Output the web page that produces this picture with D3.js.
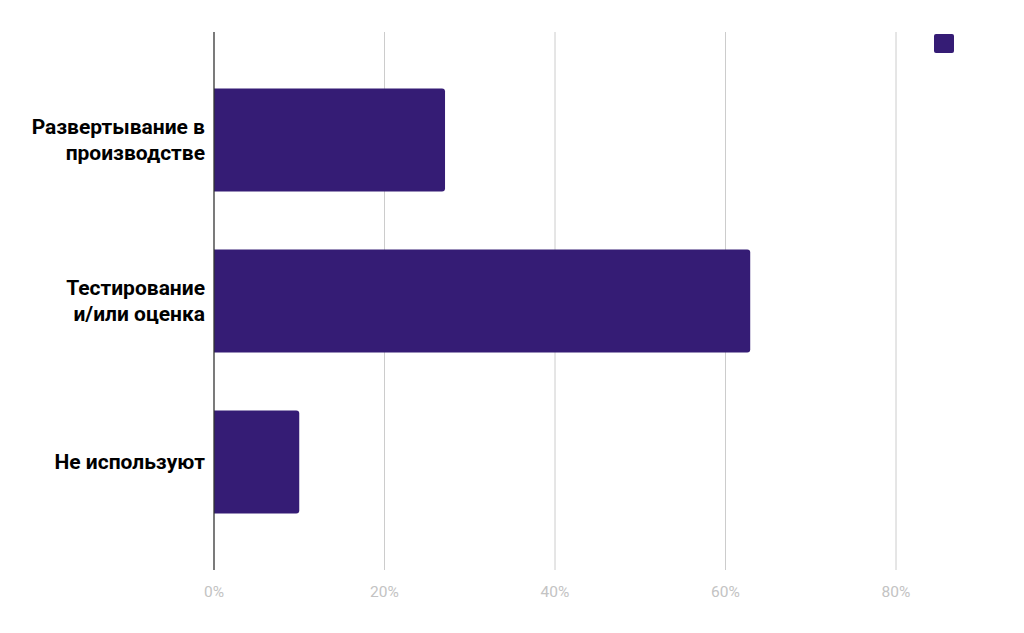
<!DOCTYPE html>
<html><head><meta charset="utf-8">
<script src="https://cdn.jsdelivr.net/npm/d3@7"></script>
<style>body{margin:0;background:#fff}svg{display:block}</style>
</head><body><svg id="c" width="1024" height="633"></svg>
<script>
const categories = [["Развертывание в","производстве"],["Тестирование","и/или оценка"],["Не используют"]];
const values = [27.1, 62.9, 10];
const ticks = [0, 20, 40, 60, 80];
const tickLabels = ["0%","20%","40%","60%","80%"];

const svg = d3.select("#c");
const m = {l:214, r:896, t:32, b:570};
const x = d3.scaleLinear().domain([0,80]).range([m.l, m.r]);
const y = d3.scaleBand().domain(d3.range(categories.length)).range([m.t, m.b]).paddingInner(0.36).paddingOuter(0.35);
const color = "#351c75";

svg.append("g").selectAll("line").data(ticks.slice(1)).join("line")
  .attr("x1", d=>x(d)).attr("x2", d=>x(d)).attr("y1", m.t).attr("y2", m.b)
  .attr("stroke", "#cccccc").attr("stroke-width", 1);

svg.append("g").selectAll("path").data(values).join("path")
  .attr("fill", color)
  .attr("d", (d,i)=>{
    const x0 = x(0), x1 = x(d), y0 = y(i), h = y.bandwidth(), r = 3;
    return `M${x0},${y0}H${x1-r}Q${x1},${y0} ${x1},${y0+r}V${y0+h-r}Q${x1},${y0+h} ${x1-r},${y0+h}H${x0}Z`;
  });

svg.append("line").attr("x1", x(0)).attr("x2", x(0)).attr("y1", m.t).attr("y2", m.b)
  .attr("stroke", "#333").attr("stroke-width", 1.3);

svg.append("g").selectAll("text").data(ticks).join("text")
  .attr("x", d=>x(d)).attr("y", 597).attr("text-anchor","middle")
  .attr("font-family","Roboto, sans-serif").attr("font-size", 15.5).attr("fill","#c3c3c3")
  .text((d,i)=>tickLabels[i]);

const lh = 26;
svg.append("g").selectAll("text").data(categories).join("text")
  .attr("text-anchor","end").attr("font-family","Roboto, sans-serif").attr("font-size", 21)
  .attr("font-weight","bold").attr("fill","#000")
  .each(function(lines, i){
    const cy = y(i) + y.bandwidth()/2;
    const start = cy - (lines.length-1)*lh/2 + 7;
    d3.select(this).selectAll("tspan").data(lines).join("tspan")
      .attr("x", 205).attr("y", (l,j)=>start + j*lh).text(l=>l);
  });

svg.append("rect").attr("x", 934).attr("y", 34).attr("width", 20).attr("height", 19)
  .attr("rx", 2).attr("fill", color);
</script></body></html>
